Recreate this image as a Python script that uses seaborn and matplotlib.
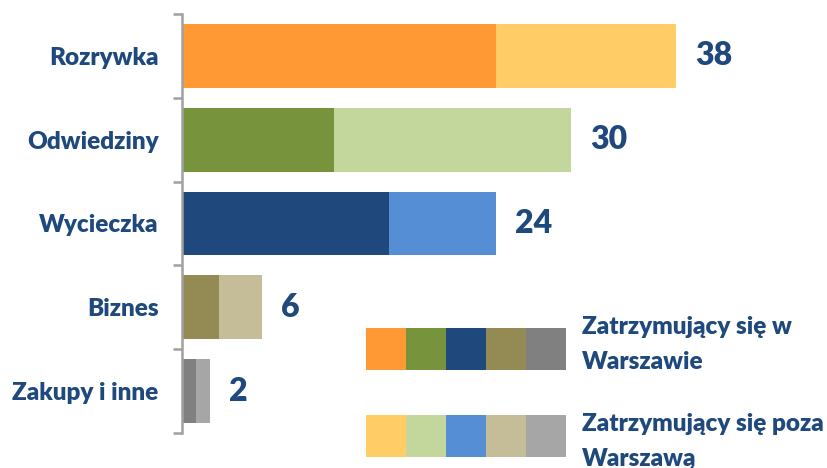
import seaborn as sns
import matplotlib.pyplot as plt
from matplotlib.patches import Rectangle

# Dane
kategorie = ['Rozrywka', 'Odwiedziny', 'Wycieczka', 'Biznes', 'Zakupy i inne']
w_warszawie = [24.0, 11.6, 15.8, 2.8, 1.1]
poza_warszawa = [13.8, 18.2, 8.2, 3.3, 1.05]
etykiety = ['38', '30', '24', '6', '2']
legenda = ['Zatrzymujący się w\nWarszawie', 'Zatrzymujący się poza\nWarszawą']

kolory_ciemne = ['#FF9933', '#77933C', '#1F497D', '#948A54', '#808080']
kolory_jasne = ['#FFCC66', '#C3D69B', '#558ED5', '#C4BD97', '#A6A6A6']
niebieski = '#1F497D'

sumy = [a + b for a, b in zip(w_warszawie, poza_warszawa)]

sns.set_style('white')
plt.rcParams['font.family'] = ['Lato', 'DejaVu Sans']

fig = plt.figure(figsize=(8.27, 4.68), dpi=100)
ax = fig.add_axes([182 / 827, 1 - 433 / 468, (800 - 182) / 827, (433 - 14) / 468])

# Słupki: najpierw suma (jasne), potem część w Warszawie (ciemne)
sns.barplot(x=sumy, y=kategorie, hue=kategorie, palette=kolory_jasne, legend=False,
            saturation=1, width=0.76, orient='h', linewidth=0, ax=ax)
sns.barplot(x=w_warszawie, y=kategorie, hue=kategorie, palette=kolory_ciemne, legend=False,
            saturation=1, width=0.76, orient='h', linewidth=0, ax=ax)

for i, (s, txt) in enumerate(zip(sumy, etykiety)):
    ax.text(s + 1.45, i, txt, ha='left', va='center', fontsize=23,
            fontweight='heavy', color=niebieski)

ax.set_xlim(0, (800 - 182) / 13.07)
ax.set_ylim(4.5, -0.5)
ax.set_xlabel('')
ax.set_ylabel('')
ax.set_xticks([])

for side in ['top', 'right', 'bottom']:
    ax.spines[side].set_visible(False)
ax.spines['left'].set_color('#A0A0A0')
ax.spines['left'].set_linewidth(1.8)

ax.set_yticks(range(len(kategorie)))
ax.set_yticklabels(kategorie, fontsize=17.5, fontweight='heavy', color=niebieski)
ax.set_yticks([i - 0.5 for i in range(len(kategorie) + 1)], minor=True)
ax.tick_params(axis='y', which='major', left=False, length=0, pad=17)
ax.tick_params(axis='y', which='minor', left=True, length=6.5, width=1.8,
               color='#A0A0A0', direction='out')

# Legenda rysowana ręcznie
for r, (kolory, y0, yt) in enumerate([(kolory_ciemne, 328, 316), (kolory_jasne, 415, 413)]):
    for j, c in enumerate(kolory):
        fig.add_artist(Rectangle(((366 + j * 40) / 827, 1 - (y0 + 42) / 468), 40 / 827, 42 / 468,
                                 transform=fig.transFigure, facecolor=c, edgecolor='none'))
    fig.text(582 / 827, 1 - yt / 468, legenda[r], ha='left', va='top', fontsize=17.5,
             fontweight='heavy', color=niebieski, linespacing=1.7)

plt.savefig('out.png', dpi=100)
